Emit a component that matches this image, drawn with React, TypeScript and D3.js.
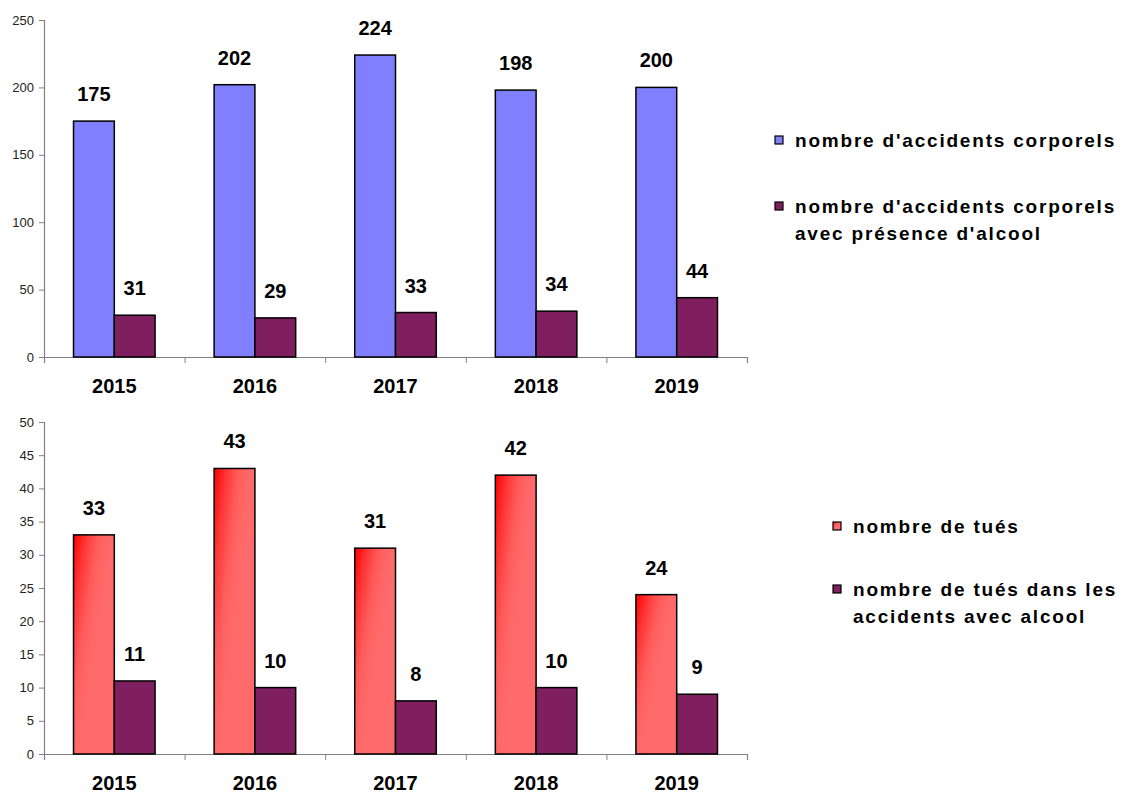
import React, { useRef, useEffect } from "react";
import * as d3 from "d3";

const years = ["2015", "2016", "2017", "2018", "2019"];
const accidents = [175, 202, 224, 198, 200];
const accidentsAlcool = [31, 29, 33, 34, 44];
const tues = [33, 43, 31, 42, 24];
const tuesAlcool = [11, 10, 8, 10, 9];
const topTicks = [0, 50, 100, 150, 200, 250];
const bottomTicks = [0, 5, 10, 15, 20, 25, 30, 35, 40, 45, 50];
const topLegend = [["nombre d'accidents corporels"], ["nombre d'accidents corporels", "avec présence d'alcool"]];
const bottomLegend = [["nombre de tués"], ["nombre de tués dans les", "accidents avec alcool"]];

const BLUE = "#8080ff";
const PLUM = "#7f1f5f";
const FONT = "'Liberation Sans', Arial, sans-serif";

const App: React.FC = () => {
  const ref = useRef<SVGSVGElement>(null);

  useEffect(() => {
    const svg = d3.select(ref.current);
    svg.selectAll("*").remove();

    // red fill: bright corner top-left, fading to salmon
    const defs = svg.append("defs");
    const grad = defs
      .append("linearGradient")
      .attr("id", "red-grad")
      .attr("x1", 0)
      .attr("y1", 0)
      .attr("x2", 0.6)
      .attr("y2", 0.5);
    grad.append("stop").attr("offset", "0%").attr("stop-color", "#ff0000");
    grad.append("stop").attr("offset", "30%").attr("stop-color", "#ff3535");
    grad.append("stop").attr("offset", "60%").attr("stop-color", "#ff5c5c");
    grad.append("stop").attr("offset", "85%").attr("stop-color", "#ff6868");
    grad.append("stop").attr("offset", "100%").attr("stop-color", "#ff6a6a");

    const left = 44,
      right = 747;

    const drawPanel = (
      top: number,
      bottom: number,
      max: number,
      ticks: number[],
      s1: number[],
      s2: number[],
      fill1: string,
      legend: string[][],
      legendX: number,
      legendY: number[]
    ) => {
      const x = d3.scaleBand<string>().domain(years).range([left, right]).padding(0);
      const y = d3.scaleLinear().domain([0, max]).range([bottom, top]);
      const bw = x.bandwidth() * 0.29;
      const off = (x.bandwidth() - 2 * bw) / 2;
      const sub = d3.scaleBand<number>().domain([0, 1]).range([0, 2 * bw]);

      // y axis
      const ya = svg
        .append("g")
        .attr("transform", `translate(${left},0)`)
        .call(d3.axisLeft(y).tickValues(ticks).tickSize(5).tickPadding(5));
      ya.select(".domain").attr("stroke", "#808080").attr("stroke-width", 1.2);
      ya.selectAll(".tick line").attr("stroke", "#808080");
      ya.selectAll("text")
        .attr("fill", "#222")
        .style("font-family", FONT)
        .style("font-size", "13px");

      // x axis, ticks between categories
      const xa = svg
        .append("g")
        .attr("transform", `translate(0,${bottom})`)
        .call(
          d3
            .axisBottom(d3.scaleLinear().domain([0, years.length]).range([left, right]))
            .tickValues(d3.range(years.length + 1))
            .tickSize(6)
            .tickFormat(() => "")
        );
      xa.select(".domain").attr("stroke", "#808080").attr("stroke-width", 1.2);
      xa.selectAll(".tick line").attr("stroke", "#808080");

      svg
        .append("g")
        .selectAll("text")
        .data(years)
        .enter()
        .append("text")
        .attr("x", (d) => x(d)! + x.bandwidth() / 2)
        .attr("y", bottom + 36)
        .attr("text-anchor", "middle")
        .style("font-family", FONT)
        .style("font-weight", "bold")
        .style("font-size", "20px")
        .text((d) => d);

      const series = [
        { vals: s1, fill: fill1 },
        { vals: s2, fill: PLUM },
      ];
      series.forEach((s, si) => {
        const g = svg.append("g");
        g.selectAll("rect")
          .data(s.vals)
          .enter()
          .append("rect")
          .attr("x", (_, i) => x(years[i])! + off + sub(si)!)
          .attr("y", (d) => y(d))
          .attr("width", bw)
          .attr("height", (d) => bottom - y(d))
          .attr("fill", s.fill)
          .attr("stroke", "#000")
          .attr("stroke-width", 1.5);
        g.selectAll("text")
          .data(s.vals)
          .enter()
          .append("text")
          .attr("x", (_, i) => x(years[i])! + off + sub(si)! + bw / 2)
          .attr("y", (d) => y(d) - 20)
          .attr("text-anchor", "middle")
          .style("font-family", FONT)
          .style("font-weight", "bold")
          .style("font-size", "20px")
          .text((d) => d);
      });

      // legend
      legend.forEach((lines, li) => {
        const ly = legendY[li];
        svg
          .append("rect")
          .attr("x", legendX)
          .attr("y", ly - 11)
          .attr("width", 8)
          .attr("height", 8)
          .attr("fill", li === 0 ? fill1 : PLUM)
          .attr("stroke", "#000")
          .attr("stroke-width", 1.2);
        lines.forEach((t, k) => {
          svg
            .append("text")
            .attr("x", legendX + 20)
            .attr("y", ly + k * 27)
            .style("font-family", FONT)
            .style("font-weight", "bold")
            .style("font-size", "19px")
            .style("letter-spacing", "1.8px")
            .text(t);
        });
      });
    };

    drawPanel(20, 357, 250, topTicks, accidents, accidentsAlcool, BLUE, topLegend, 775, [147, 213]);
    drawPanel(422, 754, 50, bottomTicks, tues, tuesAlcool, "url(#red-grad)", bottomLegend, 833, [533, 596]);
  }, []);

  return (
    <div style={{ position: "absolute", left: 0, top: 0, background: "#fff" }}>
      <svg ref={ref} width={1124} height={793} style={{ display: "block" }} />
    </div>
  );
};

export default App;
